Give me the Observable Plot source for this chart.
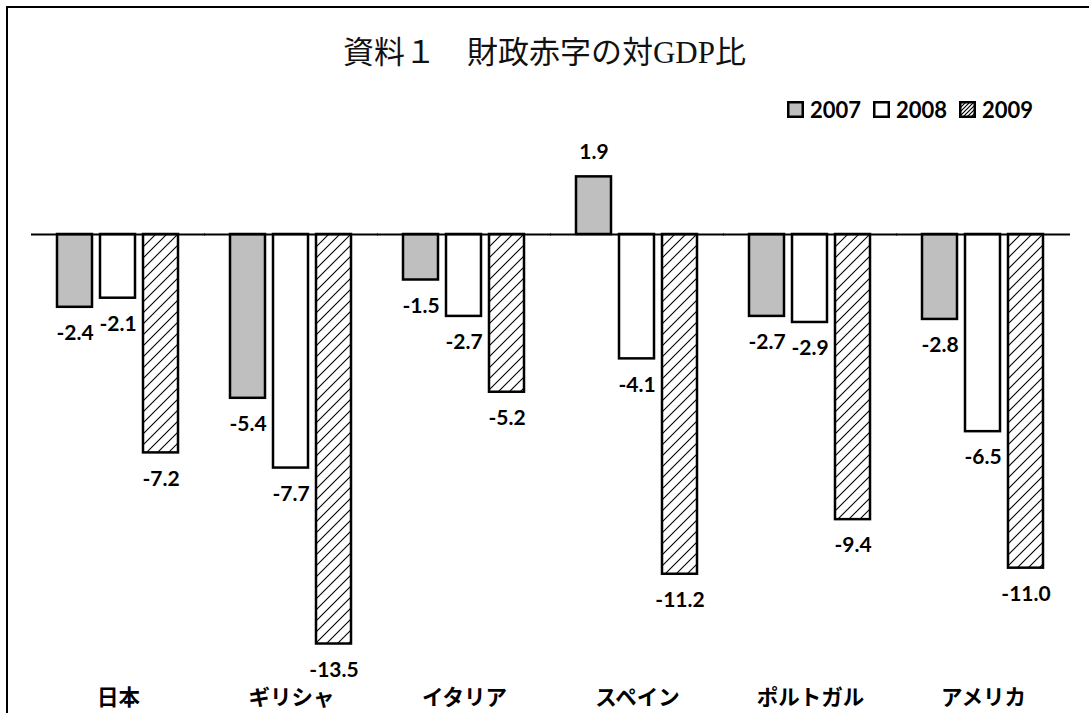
<!DOCTYPE html>
<html>
<head>
<meta charset="utf-8">
<script src="https://cdn.jsdelivr.net/npm/d3@7"></script>
<script src="https://cdn.jsdelivr.net/npm/@observablehq/plot@0.6"></script>
<style>
  html, body { margin: 0; padding: 0; background: #fff; overflow: hidden; width: 1089px; height: 713px; }
  #frame { position: absolute; left: 6px; top: 6px; width: 1200px; height: 800px; border: 2px solid #000; box-sizing: border-box; }
  #title { position: absolute; left: 0; top: 27px; width: 1089px; text-align: center;
           font-family: "Liberation Serif", "Noto Sans CJK JP", serif; font-size: 31px; font-weight: 400; color: #111; }
  #legend { position: absolute; left: 787px; top: 96px; display: flex; align-items: center;
            font-family: Lato, "Open Sans", sans-serif; font-weight: 700; font-size: 22px; color: #000; }
  #legend .item { display: flex; align-items: center; margin-right: 12px; }
  #legend svg { margin-right: 6px; }
  #chart { position: absolute; left: 0; top: 0; }
</style>
</head>
<body>
<div id="frame"></div>
<div id="title">資料１　財政赤字の対GDP比</div>
<div id="legend"></div>
<div id="chart"></div>
<script>
// ---- data ----
const categories = ["日本", "ギリシャ", "イタリア", "スペイン", "ポルトガル", "アメリカ"];
const years = ["2007", "2008", "2009"];
const v2007 = [-2.4, -5.4, -1.5, 1.9, -2.7, -2.8];
const v2008 = [-2.1, -7.7, -2.7, -4.1, -2.9, -6.5];
const v2009 = [-7.2, -13.5, -5.2, -11.2, -9.4, -11.0];
const fills = ["#bfbfbf", "#ffffff", "url(#hatch)"];

const series = [v2007, v2008, v2009];
const rows = [];
categories.forEach((c, i) => {
  years.forEach((y, j) => rows.push({country: c, year: y, value: series[j][i]}));
});

const fontLabel = "Lato, 'Open Sans', sans-serif";

const plot = Plot.plot({
  width: 1089,
  height: 713,
  marginLeft: 30,
  marginRight: 17,
  marginTop: 143,
  marginBottom: 24,
  style: {background: "transparent", overflow: "visible"},
  fx: {domain: categories, paddingInner: 0.293, paddingOuter: 0.1465, axis: null},
  x: {domain: years, paddingInner: 0.18, paddingOuter: 0, axis: null},
  y: {domain: [-15, 3], axis: null},
  color: {domain: years, range: fills},
  marks: [
    Plot.barY(rows, {fx: "country", x: "year", y: "value", fill: "year", stroke: "#000", strokeWidth: 2.5}),
    Plot.ruleY(categories.map(c => ({country: c, v: 0})), {fx: "country", y: "v", insetLeft: -26, insetRight: -26, stroke: "#000", strokeWidth: 2}),
    Plot.text(rows.filter(d => d.value < 0), {fx: "country", x: "year", y: "value", text: d => d.value.toFixed(1),
      dy: 26, fontSize: 21, fontWeight: 700, fontFamily: fontLabel, fill: "#000"}),
    Plot.text(rows.filter(d => d.value >= 0), {fx: "country", x: "year", y: "value", text: d => d.value.toFixed(1),
      dy: -25, fontSize: 21, fontWeight: 700, fontFamily: fontLabel, fill: "#000"}),
    Plot.text(categories, {fx: d => d, text: d => d, frameAnchor: "bottom", dy: 15,
      fontSize: 21.5, fontWeight: 700, fontFamily: "'Noto Sans CJK JP', sans-serif", fill: "#000"})
  ]
});

d3.select(plot).insert("defs", ":first-child").html(`
  <pattern id="hatch" patternUnits="userSpaceOnUse" width="11" height="11">
    <rect width="11" height="11" fill="#fff"/>
    <path d="M-1,1 l2,-2 M0,11 l11,-11 M10,12 l2,-2" stroke="#000" stroke-width="1.1"/>
  </pattern>
  <pattern id="hatchSmall" patternUnits="userSpaceOnUse" width="4" height="4">
    <rect width="4" height="4" fill="#fff"/>
    <path d="M-1,1 l2,-2 M0,4 l4,-4 M3,5 l2,-2" stroke="#000" stroke-width="1.2"/>
  </pattern>`);
document.getElementById("chart").appendChild(plot);

// legend
const legendFills = ["#bfbfbf", "#ffffff", "url(#hatchSmall)"];
const legend = d3.select("#legend");
years.forEach((y, j) => {
  const item = legend.append("div").attr("class", "item");
  const s = item.append("svg").attr("width", 17).attr("height", 17);
  s.append("rect").attr("x", 1.25).attr("y", 1.25).attr("width", 14.5).attr("height", 14.5)
    .attr("fill", legendFills[j]).attr("stroke", "#000").attr("stroke-width", 2.5);
  item.append("span").text(y);
});
</script>
</body>
</html>
